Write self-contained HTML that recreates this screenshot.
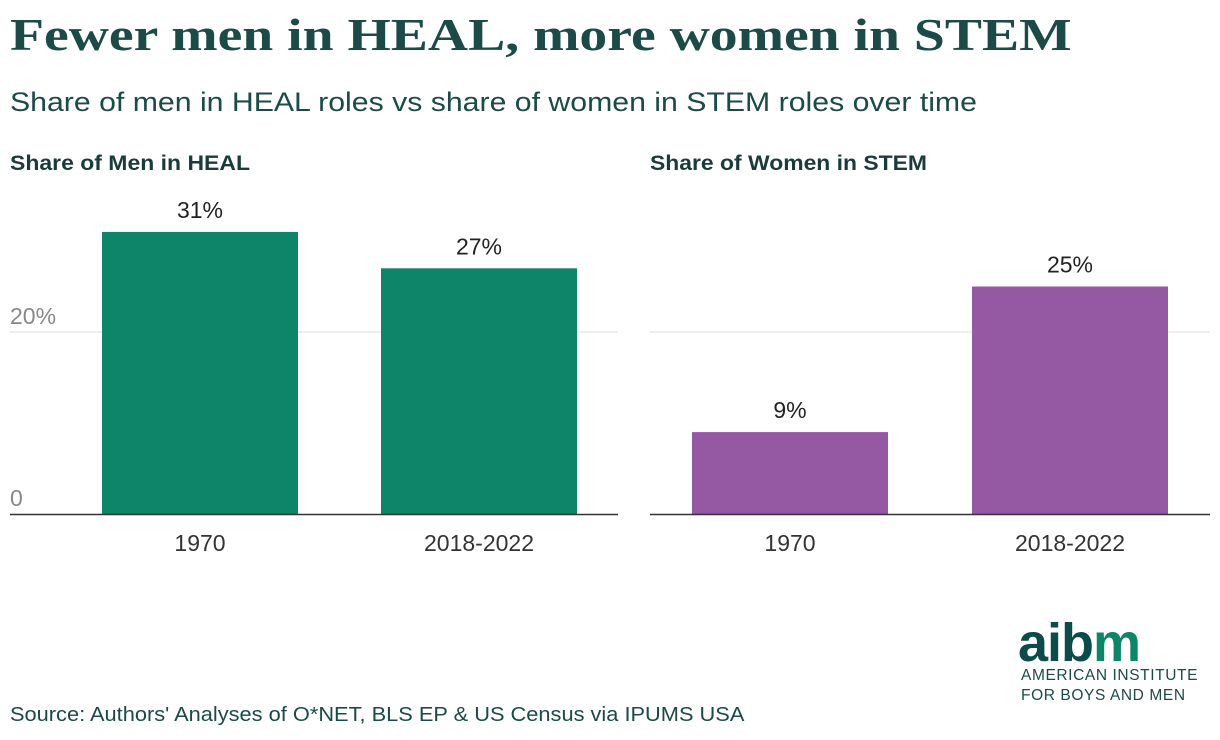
<!DOCTYPE html>
<html><head><meta charset="utf-8"><style>
body{margin:0;width:1220px;height:740px;background:#fff;font-family:"Liberation Sans",sans-serif;position:relative;overflow:hidden}
.t{position:absolute;white-space:nowrap;transform-origin:0 0}
</style></head><body>
<div class="t" style="left:10px;top:8px;font-family:'Liberation Serif',serif;font-weight:bold;font-size:46px;color:#1b4a47;transform:scaleX(1.21)">Fewer men in HEAL, more women in STEM</div>
<div class="t" style="left:10px;top:87px;font-size:27px;color:#1b4a47;transform:scaleX(1.12)">Share of men in HEAL roles vs share of women in STEM roles over time</div>
<svg id="c" width="1220" height="740" style="position:absolute;left:0;top:0"></svg>
<div class="t" style="left:10px;top:704px;font-size:20px;color:#1b4a47;transform:scaleX(1.09)">Source: Authors' Analyses of O*NET, BLS EP &amp; US Census via IPUMS USA</div>
<div class="t" style="left:1018px;top:612px;font-weight:bold;font-size:54px;letter-spacing:-1px;color:#0d4a4a"><span>ai</span><span>b</span><span style="color:#0e8568">m</span></div>
<div class="t" style="left:1021px;top:666px;font-size:15.5px;line-height:20px;letter-spacing:0.6px;color:#1b4a47">AMERICAN INSTITUTE<br>FOR BOYS AND MEN</div>
<script>
const categories=["1970","2018-2022"];
const healValues=[31,27];
const stemValues=[9,25];
const ticks=[0,20];
const svg=document.getElementById('c');const NS='http://www.w3.org/2000/svg';
function el(t,a,txt){const e=document.createElementNS(NS,t);for(const k in a)e.setAttribute(k,a[k]);if(txt!==undefined)e.textContent=txt;svg.appendChild(e);return e;}
const y=v=>514-v*9.1;
const panels=[
 {title:"Share of Men in HEAL",x0:10,x1:618,bars:[102,381],w:196,vals:healValues,color:"#0e8568",labels:true,key:"heal"},
 {title:"Share of Women in STEM",x0:650,x1:1210,bars:[692,972],w:196,vals:stemValues,color:"#9558a3",labels:false,key:"stem"}];
panels.forEach(p=>{
 const t=el('text',{x:p.x0,y:170,'font-size':21,'font-weight':'bold',fill:'#1b3a3a',textLength:p.key==='heal'?240:277,lengthAdjust:'spacingAndGlyphs'},p.title);
 
 
 ticks.forEach(v=>{
  if(v>0){const g=el('line',{x1:p.x0,x2:p.x1,y1:y(v),y2:y(v),stroke:'#ddd','stroke-width':1});
   
   }
  if(p.labels){const l=el('text',{x:p.x0,y:y(v)-8,'font-size':23,fill:'#888'},v===0?'0':v+'%');
   
   }
 });
 p.vals.forEach((v,i)=>{
  const bx=p.bars[i];
  const r=el('rect',{x:bx,y:y(v),width:p.w,height:y(0)-y(v),fill:p.color});
  
  
  const vl=el('text',{x:bx+p.w/2,y:y(v)-14,'font-size':23,fill:'#222','text-anchor':'middle'},v+'%');
  
  
  const cl=el('text',{x:bx+p.w/2,y:551,'font-size':23,fill:'#333','text-anchor':'middle'},categories[i]);
  
  
 });
 const ax=el('line',{x1:p.x0,x2:p.x1,y1:y(0)+0.5,y2:y(0)+0.5,stroke:'#333','stroke-width':1.5});
 
 
});
</script>
</body></html>
